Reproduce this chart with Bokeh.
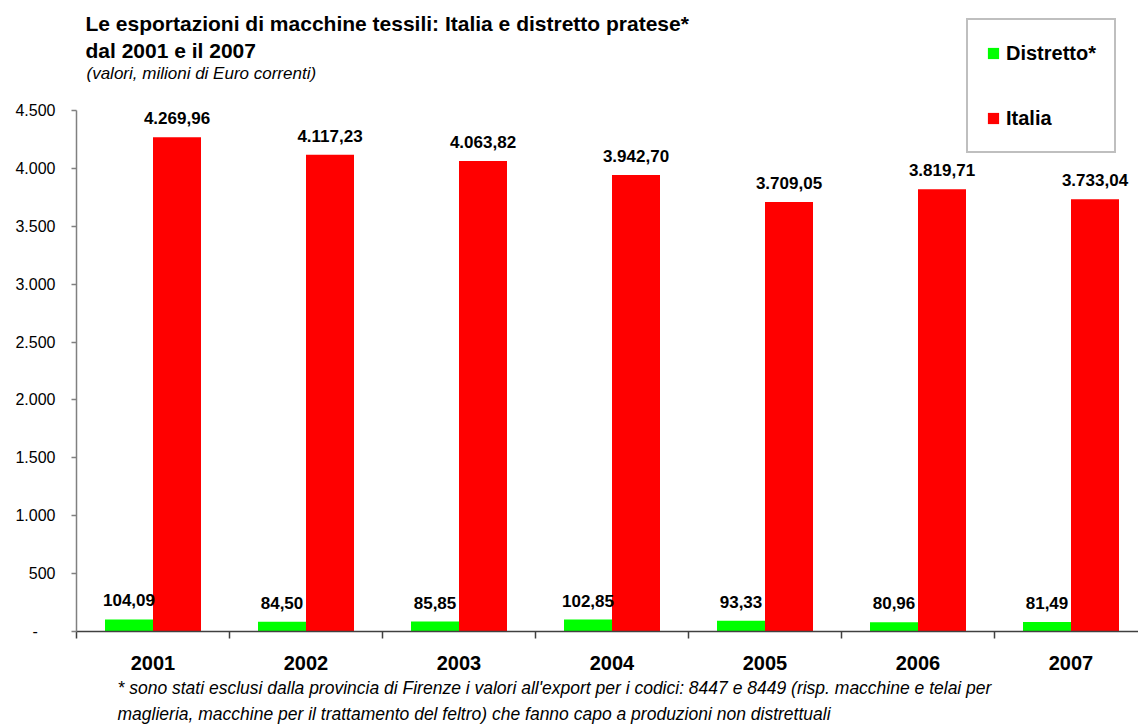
import numpy as np
from bokeh.plotting import figure
from bokeh.models import (ColumnDataSource, Range1d, FixedTicker, LabelSet, Label,
                          Legend, LegendItem, Title)
from bokeh.core.properties import value
from bokeh.transform import dodge
from bokeh.embed import file_html
from bokeh.resources import INLINE

# ---------------- data ----------------
years = ["2001", "2002", "2003", "2004", "2005", "2006", "2007"]
distretto = [104.09, 84.50, 85.85, 102.85, 93.33, 80.96, 81.49]
italia = [4269.96, 4117.23, 4063.82, 3942.70, 3709.05, 3819.71, 3733.04]
y_ticks = [0, 500, 1000, 1500, 2000, 2500, 3000, 3500, 4000, 4500]
y_tick_labels = ["-\u00a0\u00a0\u00a0\u00a0", "500", "1.000", "1.500", "2.000", "2.500",
                 "3.000", "3.500", "4.000", "4.500"]

title1 = "Le esportazioni di macchine tessili: Italia e distretto pratese*"
title2 = "dal 2001 e il 2007"
subtitle = "(valori, milioni di Euro correnti)"
note1 = ("* sono stati esclusi dalla provincia di Firenze i valori all'export per i codici: "
         "8447 e 8449 (risp. macchine e telai per")
note2 = ("maglieria, macchine per il trattamento del feltro) che fanno capo a produzioni "
         "non distrettuali")

FONT = "Liberation Sans"
GREEN = "#00FF00"
RED = "#FF0000"

# ---------------- layout constants ----------------
W, H = 1138, 725
L, T, B = 76, 110, 631          # frame left, top of value axis, axis baseline (px)
CAT_W = 153                     # px per category
BAR_W = 48 / CAT_W              # bar width in category units
YMAX = 4500
UPP = YMAX / (B - T)            # data units per pixel


def it_fmt(v):
    s = f"{v:,.2f}"
    return s.replace(",", "X").replace(".", ",").replace("X", ".")


n = len(years)
xc = np.arange(n) + 0.5
src = ColumnDataSource(dict(
    x=xc, distretto=distretto, italia=italia,
    dlab=[it_fmt(v) for v in distretto], ilab=[it_fmt(v) for v in italia],
))

p = figure(width=W, height=H, output_backend="svg", toolbar_location=None,
           x_range=Range1d(0, (W - L) / CAT_W), y_range=Range1d(0, B * UPP),
           min_border_left=L, min_border_right=0, min_border_top=0,
           min_border_bottom=H - B)
p.outline_line_color = None
p.xgrid.visible = False
p.ygrid.visible = False
p.background_fill_color = "white"
p.border_fill_color = "white"

g = p.vbar(x=dodge("x", -BAR_W / 2, range=p.x_range), top="distretto", width=BAR_W,
           bottom=0, source=src, fill_color=GREEN, line_color=None)
r = p.vbar(x=dodge("x", BAR_W / 2, range=p.x_range), top="italia", width=BAR_W,
           bottom=0, source=src, fill_color=RED, line_color=None)

lab_style = dict(text_font=value(FONT), text_font_size=value("17px"),
                 text_font_style=value("bold"),
                 text_align=value("center"), text_baseline=value("alphabetic"),
                 text_color=value("black"), y_offset=13)
p.add_layout(LabelSet(x=dodge("x", -BAR_W / 2, range=p.x_range), y="distretto",
                      text="dlab", source=src, **lab_style))
p.add_layout(LabelSet(x=dodge("x", BAR_W / 2, range=p.x_range), y="italia",
                      text="ilab", source=src, **lab_style))

# y axis
ya = p.yaxis[0]
ya.ticker = FixedTicker(ticks=y_ticks, minor_ticks=[])
ya.bounds = (0, YMAX)
ya.major_label_overrides = {t: s for t, s in zip(y_ticks, y_tick_labels)}
ya.axis_line_color = "#808080"
ya.axis_line_width = 1.5
ya.major_tick_line_color = "#808080"
ya.major_tick_line_width = 1.5
ya.major_tick_out = 5
ya.major_tick_in = 0
ya.minor_tick_line_color = None
ya.major_label_text_font = FONT
ya.major_label_text_font_size = "16px"
ya.major_label_text_color = "black"
ya.major_label_standoff = 16

# x axis: labels at category centres, ticks at boundaries
xa = p.xaxis[0]
xa.ticker = FixedTicker(ticks=list(xc), minor_ticks=list(range(n + 1)))
xa.major_label_overrides = {float(c): y for c, y in zip(xc, years)}
xa.axis_line_color = "#404040"
xa.axis_line_width = 1.5
xa.major_tick_line_color = None
xa.major_tick_out = 0
xa.major_tick_in = 0
xa.minor_tick_line_color = "#404040"
xa.minor_tick_line_width = 1.5
xa.minor_tick_out = 7
xa.minor_tick_in = 0
xa.major_label_text_font = FONT
xa.major_label_text_font_size = "20px"
xa.major_label_text_font_style = "bold"
xa.major_label_text_color = "black"
xa.major_label_standoff = 17


def dx(sx):
    return (sx - L) / CAT_W


def dy(sy):
    return (B - sy) * UPP


def add_text(txt, sx, sy, size, style):
    p.add_layout(Label(x=dx(sx), y=dy(sy), text=txt, text_font=FONT,
                       text_font_size=size, text_font_style=style, text_color="black",
                       text_align="left", text_baseline="alphabetic"))


add_text(title1, 85, 23, "21px", "bold")
add_text(title2, 85, 50, "21px", "bold")
add_text(subtitle, 86, 73, "17px", "italic")

for txt, so in ((note1, 7), (note2, 1)):
    p.add_layout(Title(text=txt, align="left", offset=117 - L, standoff=so,
                       text_font=FONT, text_font_size="17.5px", text_font_style="italic",
                       text_color="black"), "below")

legend = Legend(items=[LegendItem(label="Distretto*", renderers=[g]),
                       LegendItem(label="Italia", renderers=[r])],
                location=(890, B - 153), orientation="vertical",
                padding=18, spacing=35, margin=0,
                glyph_width=14, glyph_height=14, label_height=30, label_standoff=6,
                label_text_font=FONT, label_text_font_size="20px",
                label_text_font_style="bold", label_text_color="black",
                border_line_color="#808080", border_line_width=2,
                background_fill_color="white", background_fill_alpha=1)
p.add_layout(legend)

open("out.html", "w").write(file_html(p, INLINE))
